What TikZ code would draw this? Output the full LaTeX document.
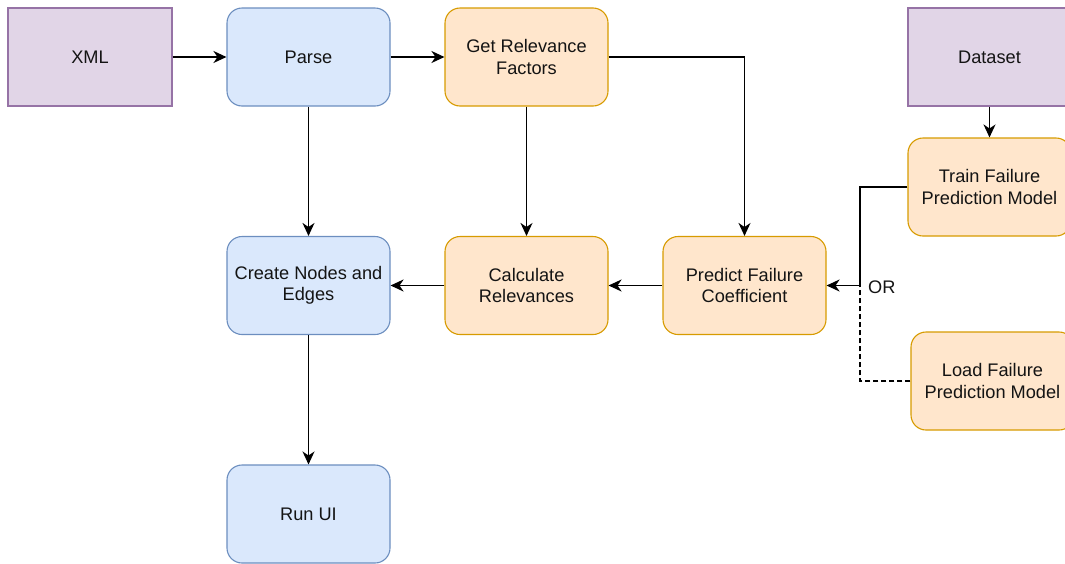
\documentclass[tikz,border=0pt]{standalone}
\usepackage{fontspec}
\setmainfont{Liberation Sans}
\usetikzlibrary{arrows.meta}

\definecolor{purpleFill}{HTML}{E1D5E7}
\definecolor{purpleLine}{HTML}{9673A6}
\definecolor{blueFill}{HTML}{DAE8FC}
\definecolor{blueLine}{HTML}{6C8EBF}
\definecolor{orangeFill}{HTML}{FFE6CC}
\definecolor{orangeLine}{HTML}{D79B00}
\definecolor{inkText}{HTML}{141414}

\tikzset{
  box/.style={minimum width=163pt, minimum height=98pt, inner sep=0pt,
    align=center, line width=1.1pt, text=inkText,
    font=\fontsize{18.2}{21.5}\selectfont},
  source/.style={box, draw=purpleLine, fill=purpleFill},
  parsebox/.style={box, rounded corners=15pt, draw=blueLine, fill=blueFill},
  modelbox/.style={box, rounded corners=15pt, draw=orangeLine, fill=orangeFill},
  flow/.style={line width=1.4pt, draw=black,
    -{Stealth[length=13pt, width=12pt, inset=4pt]}},
  plainflow/.style={line width=1.4pt, draw=black},
  lbl/.style={font=\fontsize{18.2}{21.5}\selectfont, text=inkText, inner sep=0pt}
}

\begin{document}
\begin{tikzpicture}[x=1pt, y=-1pt]
  \useasboundingbox (0,0) rectangle (1065,563);
  \clip (0,0) rectangle (1065,563);

  % input sources
  \node[source, minimum width=164pt] (xml) at (90,57) {\raisebox{-1.5pt}{XML}};
  \node[source] (dataset) at (989.5,57) {\raisebox{-1.5pt}{Dataset}};

  % processing chain
  \node[parsebox] (parse) at (308.5,57) {\raisebox{-1.5pt}{Parse}};
  \node[modelbox] (factors) at (526.5,57) {Get Relevance\\Factors};
  \node[parsebox] (create) at (308.5,285.5) {Create Nodes and\\Edges};
  \node[modelbox] (calc) at (526.5,285.5) {Calculate\\Relevances};
  \node[modelbox] (predict) at (744.5,285.5) {Predict Failure\\Coefficient};
  \node[parsebox] (runui) at (308.5,514) {\raisebox{-1.5pt}{Run UI}};

  % model options
  \node[modelbox] (train) at (989.5,187) {Train Failure\\Prediction Model};
  \node[modelbox] (load) at (992.5,381) {Load Failure\\Prediction Model};

  \coordinate (join) at (860,285.5);

  % connectors
  \draw[flow] (xml) -- (parse);
  \draw[flow] (parse) -- (factors);
  \draw[flow] (factors.east) -| (predict.north);
  \draw[flow] (factors) -- (calc);
  \draw[flow] (parse) -- (create);
  \draw[flow] (predict) -- (calc);
  \draw[flow] (calc) -- (create);
  \draw[flow] (create) -- (runui);
  \draw[flow] (dataset) -- (train);
  \draw[flow] (train.west) -| (join) -- (predict.east);
  \draw[plainflow, dashed, dash pattern=on 5pt off 3pt] (load.west) -| (join);

  \node[lbl, anchor=west] (orlabel) at (868,287) {OR};
\end{tikzpicture}
\end{document}
